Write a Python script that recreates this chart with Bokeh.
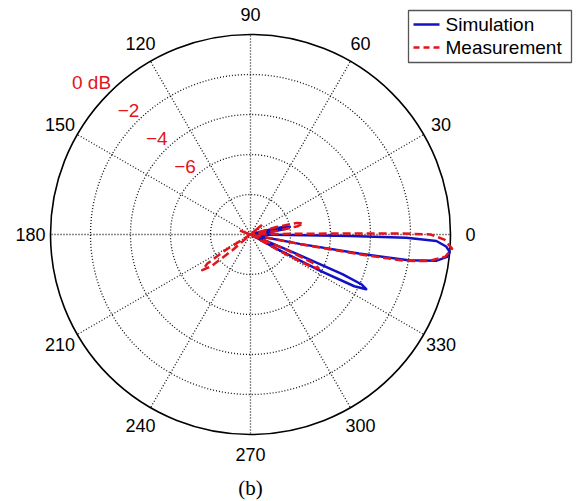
import numpy as np
from bokeh.plotting import figure
from bokeh.models import Range1d
from bokeh.core.properties import value
from bokeh.embed import file_html
from bokeh.resources import INLINE

# ---------------- data (angle in degrees, normalised gain in dB) ----------------
sim_angle = [-180, -60, -29.5, -28.5, -27.5, -26.5, -25.3, -24.2, -23.3, -22.5, -21,
             -12, -10.8, -10, -9.3, -8, -6.5, -5, -3.5, -2, -1.2, -0.9, -0.6, 0,
             5, 7, 9, 11, 13, 15, 17, 180]
sim_db = [-20, -20, -10, -8.5, -6, -4.2, -3.6, -3.9, -5, -8, -10,
          -10, -7.5, -4.5, -2, -0.6, -0.1, 0, -0.2, -0.7, -2.2, -5, -8, -10,
          -10, -9, -8.2, -8.0, -8.4, -9.2, -10, -20]

meas_angle = [-180, -165, -151, -148, -146, -143.5, -141, -139, -137, -100,
              -31, -29.5, -28, -26.3, -24.5, -23, -21.5,
              -12, -11, -10.3, -9.7, -8.5, -6.5, -4, -1.5, 0, 0.4, 0.6, 1, 2,
              6, 8, 10, 12, 14, 16, 18,
              30, 40, 50, 150, 160, 170, 180]
meas_db = [-20, -20, -10, -8.5, -7.4, -7.0, -7.5, -8.8, -10, -20,
           -10, -8.2, -6.6, -6.2, -6.6, -8, -10,
           -10, -7.5, -4.5, -2.2, -1, -0.2, 0.1, -0.3, -1, -2.5, -5, -8, -10,
           -10, -8.5, -7.6, -7.3, -7.6, -8.6, -10,
           -10, -9.3, -10, -10, -9.4, -10, -20]

angle_ticks = [0, 30, 60, 90, 120, 150, 180, 210, 240, 270, 300, 330]
ring_db = [-8, -6, -4, -2]
ring_label_db = [0, -2, -4, -6]
ring_label_text = ["0 dB", "\u22122", "\u22124", "\u22126"]
series_names = ["Simulation", "Measurement"]

# ---------------- polar scale ----------------
DB_MIN, DB_MAX = -10.0, 0.0
R = 200.0  # outer radius in data units (= px)


def rad(db):
    return np.clip((np.asarray(db, float) - DB_MIN) / (DB_MAX - DB_MIN), 0, None) * R


def to_xy(ang, db):
    a = np.radians(np.asarray(ang, float))
    r = rad(db)
    return r * np.cos(a), r * np.sin(a)


BLUE = "#1212C4"
RED = "#E3141C"
FONT = value("Liberation Sans")

p = figure(width=580, height=500,
           x_range=Range1d(-250, 330), y_range=Range1d(-266, 234),
           output_backend="svg", toolbar_location=None, min_border=0,
           x_axis_location=None, y_axis_location=None)
p.grid.visible = False
p.outline_line_color = None
p.background_fill_color = "white"
p.border_fill_color = "white"

# grid rings (dotted) and outer circle (solid)
rr = list(rad(ring_db))
p.circle(x=[0] * len(rr), y=[0] * len(rr), radius=rr, fill_color=None,
         line_color="#111111", line_dash="1 2", line_width=1.3)
p.circle(x=[0], y=[0], radius=[R], fill_color=None, line_color="black", line_width=1.6)

# spokes
ta = np.radians(angle_ticks)
p.segment(x0=[0] * len(ta), y0=[0] * len(ta), x1=list(R * np.cos(ta)), y1=list(R * np.sin(ta)),
          line_color="#111111", line_dash="1 2", line_width=1.3)

# angle labels
p.text(x=list(220 * np.cos(ta)), y=list(220 * np.sin(ta)), text=[str(a) for a in angle_ticks],
       text_align="center", text_baseline="middle", text_font=FONT,
       text_font_size="18px", text_color="black")

# ring labels (red), just outside each ring at 135 deg
lr = rad(ring_label_db)
c135 = np.cos(np.radians(135))
s135 = np.sin(np.radians(135))
p.text(x=list(lr * c135 + 2), y=list(lr * s135 + 11), text=ring_label_text,
       text_align="right", text_baseline="middle", text_font=FONT,
       text_font_size="19px", text_color=RED)

# series
sx, sy = to_xy(sim_angle, sim_db)
p.line(list(sx), list(sy), line_color=BLUE, line_width=2.5, line_join="round")
mx, my = to_xy(meas_angle, meas_db)
p.line(list(mx), list(my), line_color=RED, line_width=2.5, line_dash="8 4", line_join="round")

# legend (manual box)
p.quad(left=[158], right=[321], top=[224], bottom=[172], fill_color="white",
       line_color="#555555", line_width=1.3)
p.segment(x0=[163], y0=[210], x1=[189], y1=[210], line_color=BLUE, line_width=2.5)
p.segment(x0=[163], y0=[187], x1=[189], y1=[187], line_color=RED, line_width=2.5,
          line_dash="6 4")
p.text(x=[195, 195], y=[210, 187], text=series_names, text_align="left",
       text_baseline="middle", text_font=FONT, text_font_size="19px", text_color="black")

# caption
p.text(x=[0], y=[-253], text=["(b)"], text_align="center", text_baseline="middle",
       text_font=value("Liberation Serif"), text_font_size="21px", text_color="black")

open("out.html", "w").write(file_html(p, INLINE))
